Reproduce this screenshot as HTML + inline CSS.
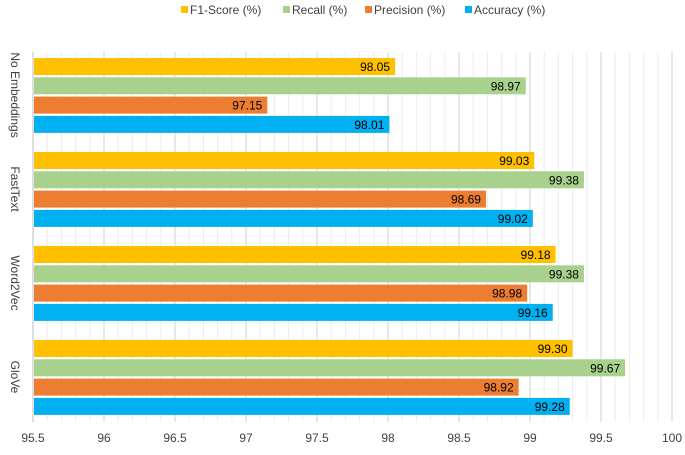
<!DOCTYPE html>
<html><head><meta charset="utf-8"><style>
body{margin:0;background:#fff;font-family:"Liberation Sans",sans-serif;}
svg text{font-family:"Liberation Sans",sans-serif;}
</style></head><body>
<svg id="c" width="685" height="450"></svg>
<script>
const categories=["No Embeddings","FastText","Word2Vec","GloVe"];
const seriesNames=["F1-Score (%)","Recall (%)","Precision (%)","Accuracy (%)"];
const seriesColors=["#FFC000","#A9D18E","#ED7D31","#00B0F0"];
const f1=[98.05,99.03,99.18,99.30];
const recall=[98.97,99.38,99.38,99.67];
const precision=[97.15,98.69,98.98,98.92];
const accuracy=[98.01,99.02,99.16,99.28];
const labels=[["98.05","99.03","99.18","99.30"],["98.97","99.38","99.38","99.67"],["97.15","98.69","98.98","98.92"],["98.01","99.02","99.16","99.28"]];
const ticks=[95.5,96,96.5,97,97.5,98,98.5,99,99.5,100];
const series=[f1,recall,precision,accuracy];
const NS="http://www.w3.org/2000/svg";
const svg=document.getElementById('c');
const xMin=95.5,xMax=100,L=33,R=672,T=52,B=422;
const x=v=>L+(v-xMin)/(xMax-xMin)*(R-L);
function mk(t,a){const e=document.createElementNS(NS,t);for(const k in a)e.setAttribute(k,a[k]);svg.appendChild(e);return e;}
for(let i=0;i<=45;i++){const v=xMin+i*0.1;const g=mk('line',{x1:x(v),x2:x(v),y1:T,y2:B,stroke:i%5==0?'#d0d0d0':'#ececec','stroke-width':1});
}
const ax=mk('line',{x1:L,x2:L,y1:T,y2:B,stroke:'#bfbfbf'});

ticks.forEach(t=>{const e=mk('text',{x:x(t),y:442,'text-anchor':'middle','font-size':12,fill:'#404040'});e.textContent=String(t);
});
const gh=94,bh=17,pitch=19.3,g0=58;
categories.forEach((c,ci)=>{
 const gy=g0+ci*gh;
 const cl=mk('text',{x:0,y:0,'text-anchor':'middle','font-size':12,fill:'#404040',transform:`translate(11,${gy+37}) rotate(90)`});
 cl.textContent=c;
 series.forEach((s,si)=>{
  const y=gy+si*pitch;
  const r=mk('rect',{x:L+1,y:y,width:x(s[ci])-L-1,height:bh,fill:seriesColors[si]});
  
  const t=mk('text',{x:x(s[ci])-5,y:y+13,'text-anchor':'end','font-size':12,fill:'#000'});
  t.textContent=labels[si][ci];
 });
});
const lx=[181,283,365,465];
seriesNames.forEach((n,i)=>{
 const r=mk('rect',{x:lx[i],y:6,width:7,height:7,fill:seriesColors[i]});
 
 const t=mk('text',{x:lx[i]+9,y:14,'font-size':12,fill:'#404040'});t.textContent=n;
 
});
</script>
</body></html>
